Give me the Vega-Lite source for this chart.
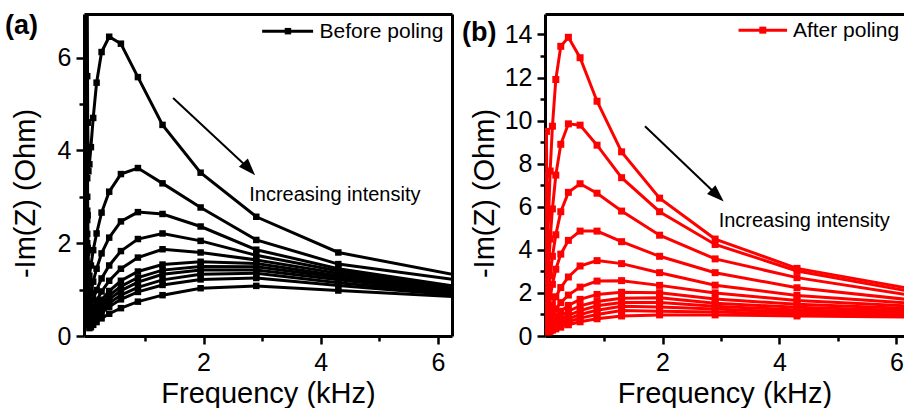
{
"$schema": "https://vega.github.io/schema/vega-lite/v6.json",
"background": "white",
"padding": {"left": 5, "top": 11, "right": 0, "bottom": 0},
"spacing": 9,
"config": {
  "view": {"stroke": null},
  "font": "Liberation Sans",
  "axis": {"grid": false, "domainColor": "black", "tickColor": "black", "labelColor": "black", "titleColor": "black", "labelFont": "Liberation Sans", "titleFont": "Liberation Sans", "labelFontSize": 25, "titleFontSize": 29, "titleFontWeight": "normal", "domainWidth": 3, "tickWidth": 2.5}
},
"datasets": {
"a": [
{"c":1,"f":6.45,"z":1.28},{"c":1,"f":4.3,"z":1.80},{"c":1,"f":2.9,"z":2.57},{"c":1,"f":1.95,"z":3.52},{"c":1,"f":1.3,"z":4.55},{"c":1,"f":0.88,"z":5.58},{"c":1,"f":0.59,"z":6.30},{"c":1,"f":0.39,"z":6.45},{"c":1,"f":0.26,"z":6.12},{"c":1,"f":0.175,"z":5.46},{"c":1,"f":0.117,"z":4.70},{"c":1,"f":0.078,"z":4.07},{"c":1,"f":0.052,"z":3.70},{"c":1,"f":0.035,"z":3.55},{"c":1,"f":0.023,"z":4.60},{"c":1,"f":0.015,"z":7.50},
{"c":2,"f":6.45,"z":1.19},{"c":2,"f":4.3,"z":1.55},{"c":2,"f":2.9,"z":2.07},{"c":2,"f":1.95,"z":2.77},{"c":2,"f":1.3,"z":3.29},{"c":2,"f":0.88,"z":3.62},{"c":2,"f":0.59,"z":3.49},{"c":2,"f":0.39,"z":3.11},{"c":2,"f":0.26,"z":2.66},{"c":2,"f":0.175,"z":2.21},{"c":2,"f":0.117,"z":1.85},{"c":2,"f":0.078,"z":1.52},{"c":2,"f":0.052,"z":1.30},{"c":2,"f":0.035,"z":1.25},{"c":2,"f":0.023,"z":2.60},{"c":2,"f":0.015,"z":5.60},
{"c":3,"f":6.45,"z":1.04},{"c":3,"f":4.3,"z":1.45},{"c":3,"f":2.9,"z":1.86},{"c":3,"f":1.95,"z":2.36},{"c":3,"f":1.3,"z":2.63},{"c":3,"f":0.88,"z":2.67},{"c":3,"f":0.59,"z":2.47},{"c":3,"f":0.39,"z":2.12},{"c":3,"f":0.26,"z":1.78},{"c":3,"f":0.175,"z":1.45},{"c":3,"f":0.117,"z":1.17},{"c":3,"f":0.078,"z":0.93},{"c":3,"f":0.052,"z":0.78},{"c":3,"f":0.035,"z":0.80},{"c":3,"f":0.023,"z":1.90},{"c":3,"f":0.015,"z":4.60},
{"c":4,"f":6.45,"z":1.00},{"c":4,"f":4.3,"z":1.40},{"c":4,"f":2.9,"z":1.74},{"c":4,"f":1.95,"z":2.05},{"c":4,"f":1.3,"z":2.21},{"c":4,"f":0.88,"z":2.09},{"c":4,"f":0.59,"z":1.83},{"c":4,"f":0.39,"z":1.52},{"c":4,"f":0.26,"z":1.24},{"c":4,"f":0.175,"z":0.99},{"c":4,"f":0.117,"z":0.79},{"c":4,"f":0.078,"z":0.63},{"c":4,"f":0.052,"z":0.53},{"c":4,"f":0.035,"z":0.60},{"c":4,"f":0.023,"z":1.55},{"c":4,"f":0.015,"z":3.90},
{"c":5,"f":6.45,"z":0.97},{"c":5,"f":4.3,"z":1.35},{"c":5,"f":2.9,"z":1.64},{"c":5,"f":1.95,"z":1.80},{"c":5,"f":1.3,"z":1.87},{"c":5,"f":0.88,"z":1.69},{"c":5,"f":0.59,"z":1.45},{"c":5,"f":0.39,"z":1.19},{"c":5,"f":0.26,"z":0.96},{"c":5,"f":0.175,"z":0.76},{"c":5,"f":0.117,"z":0.60},{"c":5,"f":0.078,"z":0.48},{"c":5,"f":0.052,"z":0.42},{"c":5,"f":0.035,"z":0.50},{"c":5,"f":0.023,"z":1.30},{"c":5,"f":0.015,"z":3.40},
{"c":6,"f":6.45,"z":0.95},{"c":6,"f":4.3,"z":1.30},{"c":6,"f":2.9,"z":1.56},{"c":6,"f":1.95,"z":1.60},{"c":6,"f":1.3,"z":1.54},{"c":6,"f":0.88,"z":1.39},{"c":6,"f":0.59,"z":1.19},{"c":6,"f":0.39,"z":0.97},{"c":6,"f":0.26,"z":0.78},{"c":6,"f":0.175,"z":0.62},{"c":6,"f":0.117,"z":0.49},{"c":6,"f":0.078,"z":0.40},{"c":6,"f":0.052,"z":0.36},{"c":6,"f":0.035,"z":0.45},{"c":6,"f":0.023,"z":1.15},{"c":6,"f":0.015,"z":3.00},
{"c":7,"f":6.45,"z":0.93},{"c":7,"f":4.3,"z":1.26},{"c":7,"f":2.9,"z":1.49},{"c":7,"f":1.95,"z":1.50},{"c":7,"f":1.3,"z":1.42},{"c":7,"f":0.88,"z":1.26},{"c":7,"f":0.59,"z":1.07},{"c":7,"f":0.39,"z":0.87},{"c":7,"f":0.26,"z":0.70},{"c":7,"f":0.175,"z":0.55},{"c":7,"f":0.117,"z":0.44},{"c":7,"f":0.078,"z":0.36},{"c":7,"f":0.052,"z":0.32},{"c":7,"f":0.035,"z":0.40},{"c":7,"f":0.023,"z":1.05},{"c":7,"f":0.015,"z":2.70},
{"c":8,"f":6.45,"z":0.91},{"c":8,"f":4.3,"z":1.21},{"c":8,"f":2.9,"z":1.42},{"c":8,"f":1.95,"z":1.42},{"c":8,"f":1.3,"z":1.33},{"c":8,"f":0.88,"z":1.16},{"c":8,"f":0.59,"z":0.98},{"c":8,"f":0.39,"z":0.79},{"c":8,"f":0.26,"z":0.63},{"c":8,"f":0.175,"z":0.50},{"c":8,"f":0.117,"z":0.40},{"c":8,"f":0.078,"z":0.32},{"c":8,"f":0.052,"z":0.28},{"c":8,"f":0.035,"z":0.35},{"c":8,"f":0.023,"z":0.95},{"c":8,"f":0.015,"z":2.50},
{"c":9,"f":6.45,"z":0.89},{"c":9,"f":4.3,"z":1.15},{"c":9,"f":2.9,"z":1.35},{"c":9,"f":1.95,"z":1.33},{"c":9,"f":1.3,"z":1.21},{"c":9,"f":0.88,"z":1.05},{"c":9,"f":0.59,"z":0.88},{"c":9,"f":0.39,"z":0.71},{"c":9,"f":0.26,"z":0.56},{"c":9,"f":0.175,"z":0.44},{"c":9,"f":0.117,"z":0.35},{"c":9,"f":0.078,"z":0.28},{"c":9,"f":0.052,"z":0.25},{"c":9,"f":0.035,"z":0.32},{"c":9,"f":0.023,"z":0.85},{"c":9,"f":0.015,"z":2.20},
{"c":10,"f":6.45,"z":0.87},{"c":10,"f":4.3,"z":1.09},{"c":10,"f":2.9,"z":1.25},{"c":10,"f":1.95,"z":1.22},{"c":10,"f":1.3,"z":1.10},{"c":10,"f":0.88,"z":0.95},{"c":10,"f":0.59,"z":0.79},{"c":10,"f":0.39,"z":0.63},{"c":10,"f":0.26,"z":0.50},{"c":10,"f":0.175,"z":0.39},{"c":10,"f":0.117,"z":0.31},{"c":10,"f":0.078,"z":0.25},{"c":10,"f":0.052,"z":0.22},{"c":10,"f":0.035,"z":0.30},{"c":10,"f":0.023,"z":0.80},{"c":10,"f":0.015,"z":2.00},
{"c":11,"f":6.45,"z":0.84},{"c":11,"f":4.3,"z":0.98},{"c":11,"f":2.9,"z":1.08},{"c":11,"f":1.95,"z":1.03},{"c":11,"f":1.3,"z":0.88},{"c":11,"f":0.88,"z":0.74},{"c":11,"f":0.59,"z":0.60},{"c":11,"f":0.39,"z":0.48},{"c":11,"f":0.26,"z":0.38},{"c":11,"f":0.175,"z":0.30},{"c":11,"f":0.117,"z":0.24},{"c":11,"f":0.078,"z":0.19},{"c":11,"f":0.052,"z":0.17},{"c":11,"f":0.035,"z":0.25},{"c":11,"f":0.023,"z":0.70},{"c":11,"f":0.015,"z":1.80}
],
"b": [
{"c":1,"f":6.45,"z":2.10},{"c":1,"f":4.3,"z":3.14},{"c":1,"f":2.9,"z":4.50},{"c":1,"f":1.95,"z":6.40},{"c":1,"f":1.3,"z":8.55},{"c":1,"f":0.88,"z":10.90},{"c":1,"f":0.59,"z":12.92},{"c":1,"f":0.39,"z":13.87},{"c":1,"f":0.26,"z":13.45},{"c":1,"f":0.175,"z":11.91},{"c":1,"f":0.117,"z":9.74},{"c":1,"f":0.078,"z":7.66},{"c":1,"f":0.052,"z":5.60},{"c":1,"f":0.035,"z":4.20},{"c":1,"f":0.023,"z":5.50},{"c":1,"f":0.015,"z":9.50},
{"c":2,"f":6.45,"z":1.97},{"c":2,"f":4.3,"z":3.02},{"c":2,"f":2.9,"z":4.25},{"c":2,"f":1.95,"z":5.77},{"c":2,"f":1.3,"z":7.35},{"c":2,"f":0.88,"z":8.86},{"c":2,"f":0.59,"z":9.79},{"c":2,"f":0.39,"z":9.85},{"c":2,"f":0.26,"z":8.90},{"c":2,"f":0.175,"z":7.47},{"c":2,"f":0.117,"z":5.90},{"c":2,"f":0.078,"z":4.50},{"c":2,"f":0.052,"z":3.30},{"c":2,"f":0.035,"z":2.60},{"c":2,"f":0.023,"z":4.00},{"c":2,"f":0.015,"z":7.50},
{"c":3,"f":6.45,"z":1.80},{"c":3,"f":4.3,"z":2.71},{"c":3,"f":2.9,"z":3.58},{"c":3,"f":1.95,"z":4.68},{"c":3,"f":1.3,"z":5.80},{"c":3,"f":0.88,"z":6.63},{"c":3,"f":0.59,"z":7.07},{"c":3,"f":0.39,"z":6.67},{"c":3,"f":0.26,"z":5.77},{"c":3,"f":0.175,"z":4.70},{"c":3,"f":0.117,"z":3.70},{"c":3,"f":0.078,"z":2.80},{"c":3,"f":0.052,"z":2.10},{"c":3,"f":0.035,"z":1.80},{"c":3,"f":0.023,"z":3.00},{"c":3,"f":0.015,"z":6.00},
{"c":4,"f":6.45,"z":1.62},{"c":4,"f":4.3,"z":2.24},{"c":4,"f":2.9,"z":2.94},{"c":4,"f":1.95,"z":3.70},{"c":4,"f":1.3,"z":4.38},{"c":4,"f":0.88,"z":4.87},{"c":4,"f":0.59,"z":4.87},{"c":4,"f":0.39,"z":4.44},{"c":4,"f":0.26,"z":3.80},{"c":4,"f":0.175,"z":3.10},{"c":4,"f":0.117,"z":2.40},{"c":4,"f":0.078,"z":1.80},{"c":4,"f":0.052,"z":1.35},{"c":4,"f":0.035,"z":1.20},{"c":4,"f":0.023,"z":2.30},{"c":4,"f":0.015,"z":4.80},
{"c":5,"f":6.45,"z":1.48},{"c":5,"f":4.3,"z":1.88},{"c":5,"f":2.9,"z":2.36},{"c":5,"f":1.95,"z":2.94},{"c":5,"f":1.3,"z":3.36},{"c":5,"f":0.88,"z":3.50},{"c":5,"f":0.59,"z":3.25},{"c":5,"f":0.39,"z":2.74},{"c":5,"f":0.26,"z":2.25},{"c":5,"f":0.175,"z":1.82},{"c":5,"f":0.117,"z":1.45},{"c":5,"f":0.078,"z":1.15},{"c":5,"f":0.052,"z":0.90},{"c":5,"f":0.035,"z":0.85},{"c":5,"f":0.023,"z":1.70},{"c":5,"f":0.015,"z":3.80},
{"c":6,"f":6.45,"z":1.36},{"c":6,"f":4.3,"z":1.65},{"c":6,"f":2.9,"z":2.00},{"c":6,"f":1.95,"z":2.35},{"c":6,"f":1.3,"z":2.57},{"c":6,"f":0.88,"z":2.55},{"c":6,"f":0.59,"z":2.27},{"c":6,"f":0.39,"z":1.90},{"c":6,"f":0.26,"z":1.55},{"c":6,"f":0.175,"z":1.25},{"c":6,"f":0.117,"z":1.00},{"c":6,"f":0.078,"z":0.80},{"c":6,"f":0.052,"z":0.65},{"c":6,"f":0.035,"z":0.65},{"c":6,"f":0.023,"z":1.30},{"c":6,"f":0.015,"z":3.00},
{"c":7,"f":6.45,"z":1.25},{"c":7,"f":4.3,"z":1.47},{"c":7,"f":2.9,"z":1.72},{"c":7,"f":1.95,"z":2.01},{"c":7,"f":1.3,"z":2.03},{"c":7,"f":0.88,"z":1.93},{"c":7,"f":0.59,"z":1.70},{"c":7,"f":0.39,"z":1.42},{"c":7,"f":0.26,"z":1.15},{"c":7,"f":0.175,"z":0.93},{"c":7,"f":0.117,"z":0.75},{"c":7,"f":0.078,"z":0.60},{"c":7,"f":0.052,"z":0.50},{"c":7,"f":0.035,"z":0.50},{"c":7,"f":0.023,"z":1.00},{"c":7,"f":0.015,"z":2.40},
{"c":8,"f":6.45,"z":1.16},{"c":8,"f":4.3,"z":1.33},{"c":8,"f":2.9,"z":1.52},{"c":8,"f":1.95,"z":1.78},{"c":8,"f":1.3,"z":1.75},{"c":8,"f":0.88,"z":1.60},{"c":8,"f":0.59,"z":1.40},{"c":8,"f":0.39,"z":1.15},{"c":8,"f":0.26,"z":0.93},{"c":8,"f":0.175,"z":0.75},{"c":8,"f":0.117,"z":0.60},{"c":8,"f":0.078,"z":0.48},{"c":8,"f":0.052,"z":0.40},{"c":8,"f":0.035,"z":0.40},{"c":8,"f":0.023,"z":0.85},{"c":8,"f":0.015,"z":2.00},
{"c":9,"f":6.45,"z":1.08},{"c":9,"f":4.3,"z":1.21},{"c":9,"f":2.9,"z":1.38},{"c":9,"f":1.95,"z":1.55},{"c":9,"f":1.3,"z":1.55},{"c":9,"f":0.88,"z":1.40},{"c":9,"f":0.59,"z":1.18},{"c":9,"f":0.39,"z":0.96},{"c":9,"f":0.26,"z":0.77},{"c":9,"f":0.175,"z":0.62},{"c":9,"f":0.117,"z":0.50},{"c":9,"f":0.078,"z":0.40},{"c":9,"f":0.052,"z":0.33},{"c":9,"f":0.035,"z":0.34},{"c":9,"f":0.023,"z":0.70},{"c":9,"f":0.015,"z":1.70},
{"c":10,"f":6.45,"z":1.01},{"c":10,"f":4.3,"z":1.11},{"c":10,"f":2.9,"z":1.25},{"c":10,"f":1.95,"z":1.35},{"c":10,"f":1.3,"z":1.38},{"c":10,"f":0.88,"z":1.20},{"c":10,"f":0.59,"z":1.00},{"c":10,"f":0.39,"z":0.80},{"c":10,"f":0.26,"z":0.64},{"c":10,"f":0.175,"z":0.51},{"c":10,"f":0.117,"z":0.41},{"c":10,"f":0.078,"z":0.33},{"c":10,"f":0.052,"z":0.28},{"c":10,"f":0.035,"z":0.30},{"c":10,"f":0.023,"z":0.60},{"c":10,"f":0.015,"z":1.40},
{"c":11,"f":6.45,"z":0.94},{"c":11,"f":4.3,"z":1.02},{"c":11,"f":2.9,"z":1.12},{"c":11,"f":1.95,"z":1.15},{"c":11,"f":1.3,"z":1.18},{"c":11,"f":0.88,"z":1.00},{"c":11,"f":0.59,"z":0.83},{"c":11,"f":0.39,"z":0.66},{"c":11,"f":0.26,"z":0.52},{"c":11,"f":0.175,"z":0.42},{"c":11,"f":0.117,"z":0.34},{"c":11,"f":0.078,"z":0.27},{"c":11,"f":0.052,"z":0.23},{"c":11,"f":0.035,"z":0.25},{"c":11,"f":0.023,"z":0.50},{"c":11,"f":0.015,"z":1.20},
{"c":12,"f":6.45,"z":0.88},{"c":12,"f":4.3,"z":0.93},{"c":12,"f":2.9,"z":0.98},{"c":12,"f":1.95,"z":0.98},{"c":12,"f":1.3,"z":0.93},{"c":12,"f":0.88,"z":0.80},{"c":12,"f":0.59,"z":0.66},{"c":12,"f":0.39,"z":0.52},{"c":12,"f":0.26,"z":0.41},{"c":12,"f":0.175,"z":0.33},{"c":12,"f":0.117,"z":0.27},{"c":12,"f":0.078,"z":0.22},{"c":12,"f":0.052,"z":0.19},{"c":12,"f":0.035,"z":0.20},{"c":12,"f":0.023,"z":0.42},{"c":12,"f":0.015,"z":1.00}
]
},
"hconcat": [
{
  "width": 368, "height": 322,
  "resolve": {"axis": {"x": "independent", "y": "independent"}},
  "layer": [
    {
      "data": {"name": "a"},
      "mark": {"type": "line", "color": "black", "strokeWidth": 3, "clip": true},
      "encoding": {
        "x": {"field": "f", "type": "quantitative", "scale": {"domain": [-0.04, 6.24], "nice": false, "zero": false},
              "axis": {"orient": "bottom", "values": [2, 4, 6], "title": "Frequency (kHz)", "tickSize": 8, "labelPadding": 6, "titleY": 66, "titleBaseline": "alphabetic"}},
        "y": {"field": "z", "type": "quantitative", "scale": {"domain": [0, 6.94], "nice": false, "zero": false},
              "axis": {"orient": "left", "values": [0, 2, 4, 6], "title": "-Im(Z) (Ohm)", "tickSize": 8, "labelPadding": 5, "titleX": -44, "titleY": 179}},
        "detail": {"field": "c", "type": "nominal"}
      }
    },
    {
      "data": {"name": "a"},
      "mark": {"type": "point", "shape": "square", "filled": true, "size": 42, "color": "black", "opacity": 1, "clip": true},
      "encoding": {
        "x": {"field": "f", "type": "quantitative", "axis": null},
        "y": {"field": "z", "type": "quantitative", "axis": null}
      }
    },
    {
      "data": {"values": [{}]},
      "mark": {"type": "rule", "color": "black", "strokeWidth": 2},
      "encoding": {
        "x": {"datum": 1.48, "type": "quantitative", "axis": {"orient": "bottom", "values": [1, 3, 5], "labels": false, "tickSize": 5, "domain": false, "title": null}},
        "y": {"datum": 5.13, "type": "quantitative", "axis": {"orient": "left", "values": [1, 3, 5], "labels": false, "tickSize": 5, "domain": false, "title": null}},
        "x2": {"datum": 2.78},
        "y2": {"datum": 3.60}
      }
    },
    {
      "data": {"values": [{}]},
      "mark": {"type": "point", "shape": "M0,-1L0.7,1L-0.7,1Z", "filled": true, "size": 300, "color": "black", "opacity": 1, "angle": 137.3},
      "encoding": {
        "x": {"datum": 2.78, "type": "quantitative", "axis": {"orient": "top", "values": [], "ticks": false, "labels": false, "title": null, "domain": true}},
        "y": {"datum": 3.60, "type": "quantitative", "axis": {"orient": "right", "values": [], "ticks": false, "labels": false, "title": null, "domain": true}}
      }
    },
    {
      "data": {"values": [{}]},
      "mark": {"type": "rule", "color": "black", "strokeWidth": 3},
      "encoding": {
        "x": {"datum": 3.0, "type": "quantitative", "axis": null},
        "x2": {"datum": 3.87},
        "y": {"datum": 6.57, "type": "quantitative", "axis": null}
      }
    },
    {
      "data": {"values": [{}]},
      "mark": {"type": "point", "shape": "square", "filled": true, "size": 42, "color": "black", "opacity": 1},
      "encoding": {
        "x": {"datum": 3.44, "type": "quantitative", "axis": null},
        "y": {"datum": 6.57, "type": "quantitative", "axis": null}
      }
    },
    {
      "data": {"values": [{"t": "Before poling"}]},
      "mark": {"type": "text", "align": "left", "baseline": "middle", "fontSize": 21, "font": "Liberation Sans", "color": "black", "dy": 1},
      "encoding": {
        "x": {"datum": 3.98, "type": "quantitative", "axis": null},
        "y": {"datum": 6.57, "type": "quantitative", "axis": null},
        "text": {"field": "t"}
      }
    },
    {
      "data": {"values": [{"t": "Increasing intensity"}]},
      "mark": {"type": "text", "align": "left", "baseline": "alphabetic", "fontSize": 20, "font": "Liberation Sans", "color": "black"},
      "encoding": {
        "x": {"datum": 2.78, "type": "quantitative", "axis": null},
        "y": {"datum": 2.92, "type": "quantitative", "axis": null},
        "text": {"field": "t"}
      }
    },
    {
      "data": {"values": [{"t": "(a)"}]},
      "mark": {"type": "text", "align": "left", "baseline": "middle", "fontSize": 27, "fontWeight": "bold", "font": "Liberation Sans", "color": "black"},
      "encoding": {
        "x": {"datum": -1.388, "type": "quantitative", "axis": null},
        "y": {"datum": 6.69, "type": "quantitative", "axis": null},
        "text": {"field": "t"}
      }
    }
  ]
},
{
  "width": 359, "height": 322,
  "resolve": {"axis": {"x": "independent", "y": "independent"}},
  "layer": [
    {
      "data": {"name": "b"},
      "mark": {"type": "line", "color": "#ff0000", "strokeWidth": 3, "clip": true},
      "encoding": {
        "x": {"field": "f", "type": "quantitative", "scale": {"domain": [-0.01, 6.13], "nice": false, "zero": false},
              "axis": {"orient": "bottom", "values": [2, 4, 6], "title": "Frequency (kHz)", "tickSize": 8, "labelPadding": 6, "titleY": 66, "titleBaseline": "alphabetic"}},
        "y": {"field": "z", "type": "quantitative", "scale": {"domain": [0, 14.95], "nice": false, "zero": false},
              "axis": {"orient": "left", "values": [0, 2, 4, 6, 8, 10, 12, 14], "title": "-Im(Z) (Ohm)", "tickSize": 8, "labelPadding": 5, "titleX": -46, "titleY": 179}},
        "detail": {"field": "c", "type": "nominal"}
      }
    },
    {
      "data": {"name": "b"},
      "mark": {"type": "point", "shape": "square", "filled": true, "size": 49, "color": "#ff0000", "opacity": 1, "clip": true},
      "encoding": {
        "x": {"field": "f", "type": "quantitative", "axis": null},
        "y": {"field": "z", "type": "quantitative", "axis": null}
      }
    },
    {
      "data": {"values": [{}]},
      "mark": {"type": "rule", "color": "black", "strokeWidth": 2},
      "encoding": {
        "x": {"datum": 1.70, "type": "quantitative", "axis": {"orient": "bottom", "values": [1, 3, 5], "labels": false, "tickSize": 5, "domain": false, "title": null}},
        "y": {"datum": 9.74, "type": "quantitative", "axis": {"orient": "left", "values": [1, 3, 5, 7, 9, 11, 13], "labels": false, "tickSize": 5, "domain": false, "title": null}},
        "x2": {"datum": 2.94},
        "y2": {"datum": 6.52}
      }
    },
    {
      "data": {"values": [{}]},
      "mark": {"type": "point", "shape": "M0,-1L0.7,1L-0.7,1Z", "filled": true, "size": 300, "color": "black", "opacity": 1, "angle": 133.8},
      "encoding": {
        "x": {"datum": 2.94, "type": "quantitative", "axis": {"orient": "top", "values": [], "ticks": false, "labels": false, "title": null, "domain": true}},
        "y": {"datum": 6.52, "type": "quantitative", "axis": null}
      }
    },
    {
      "data": {"values": [{}]},
      "mark": {"type": "rule", "color": "#ff0000", "strokeWidth": 3},
      "encoding": {
        "x": {"datum": 3.30, "type": "quantitative", "axis": null},
        "x2": {"datum": 4.13},
        "y": {"datum": 14.2, "type": "quantitative", "axis": null}
      }
    },
    {
      "data": {"values": [{}]},
      "mark": {"type": "point", "shape": "square", "filled": true, "size": 49, "color": "#ff0000", "opacity": 1},
      "encoding": {
        "x": {"datum": 3.715, "type": "quantitative", "axis": null},
        "y": {"datum": 14.2, "type": "quantitative", "axis": null}
      }
    },
    {
      "data": {"values": [{"t": "After poling"}]},
      "mark": {"type": "text", "align": "left", "baseline": "middle", "fontSize": 21, "font": "Liberation Sans", "color": "black", "dy": 1},
      "encoding": {
        "x": {"datum": 4.23, "type": "quantitative", "axis": null},
        "y": {"datum": 14.2, "type": "quantitative", "axis": null},
        "text": {"field": "t"}
      }
    },
    {
      "data": {"values": [{"t": "Increasing intensity"}]},
      "mark": {"type": "text", "align": "left", "baseline": "alphabetic", "fontSize": 20, "font": "Liberation Sans", "color": "black"},
      "encoding": {
        "x": {"datum": 2.96, "type": "quantitative", "axis": null},
        "y": {"datum": 5.06, "type": "quantitative", "axis": null},
        "text": {"field": "t"}
      }
    },
    {
      "data": {"values": [{"t": "(b)"}]},
      "mark": {"type": "text", "align": "left", "baseline": "middle", "fontSize": 27, "fontWeight": "bold", "font": "Liberation Sans", "color": "black"},
      "encoding": {
        "x": {"datum": -1.43, "type": "quantitative", "axis": null},
        "y": {"datum": 14.06, "type": "quantitative", "axis": null},
        "text": {"field": "t"}
      }
    }
  ]
}
]
}
